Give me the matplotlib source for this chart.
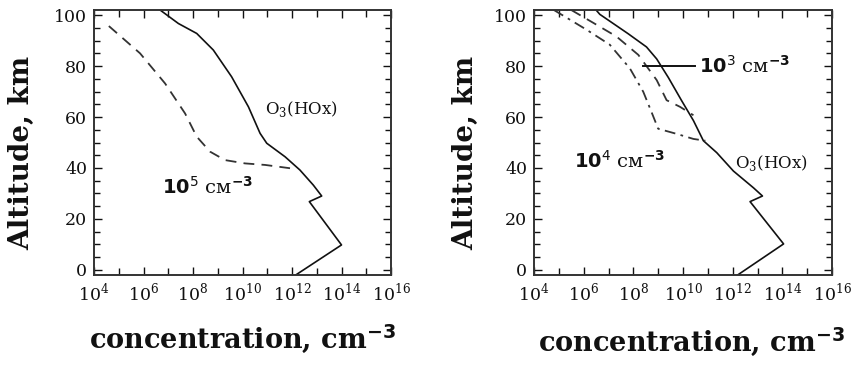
import numpy as np
import matplotlib.pyplot as plt
from matplotlib.ticker import NullFormatter

plt.rcParams['mathtext.fontset'] = 'custom'
plt.rcParams['mathtext.rm'] = 'DejaVu Serif'
plt.rcParams['mathtext.bf'] = 'DejaVu Sans:bold'
plt.rcParams['mathtext.sf'] = 'DejaVu Sans'

# O3(HOx) profile, left panel (altitude km, log10 concentration)
alt_o3_l = [102, 96.7, 92.8, 86.3, 75.8, 64, 53.6, 49.7, 44.4, 39.2, 33.3, 29.0, 26.8, 9.8, -2]
lg_o3_l = [6.67, 7.41, 8.15, 8.82, 9.56, 10.24, 10.71, 10.98, 11.72, 12.32, 12.86, 13.2, 12.7, 14.0, 12.15]

# 1e5 cm-3 profile (dashed), left panel
alt_d5 = [95.7, 85, 73.2, 61.4, 52.3, 46.4, 43.1, 41.8, 41.2, 39.9]
lg_d5 = [4.6, 5.86, 6.87, 7.68, 8.15, 8.69, 9.29, 10.1, 10.91, 11.92]

# O3(HOx) profile, right panel
alt_o3_r = [102, 100.3, 92.7, 87.5, 82.8, 75.5, 66.5, 58.6, 50.7, 46, 38.8, 32.2, 29.0, 26.8, 10.2, -2]
lg_o3_r = [6.5, 6.65, 7.79, 8.53, 8.94, 9.41, 9.94, 10.42, 10.82, 11.36, 12.03, 12.84, 13.2, 12.7, 14.05, 12.2]

# 1e3 cm-3 profile (dashed), right panel
alt_d3 = [102, 97, 91.6, 84.4, 74.5, 66.6, 64, 60.7]
lg_d3 = [5.5, 6.38, 7.32, 8.2, 8.94, 9.34, 9.88, 10.42]

# 1e4 cm-3 profile (dash-dot), right panel
alt_d4 = [102, 94.3, 88.4, 79.1, 69.9, 62, 55.4, 53.4, 51.4, 50.7]
lg_d4 = [4.8, 6.11, 7.05, 7.86, 8.4, 8.73, 9.0, 9.74, 10.42, 10.9]

xticks = [4, 6, 8, 10, 12, 14, 16]
yticks = [0, 20, 40, 60, 80, 100]

fig = plt.figure(figsize=(8.56, 3.65), dpi=100)
ax1 = fig.add_axes([94 / 856, 1 - 275 / 365, 297 / 856, 265 / 365])
ax2 = fig.add_axes([534 / 856, 1 - 275 / 365, 298 / 856, 265 / 365])

ink = '#111111'
for ax in (ax1, ax2):
    ax.set_xscale('log')
    ax.set_xlim(1e4, 1e16)
    ax.set_ylim(-2, 102)
    ax.set_xticks([10.0 ** t for t in xticks])
    ax.set_xticklabels([r'$10^{%d}$' % t for t in xticks])
    ax.set_xticks([10.0 ** t for t in range(5, 16, 2)], minor=True)
    ax.xaxis.set_minor_formatter(NullFormatter())
    ax.set_yticks(yticks)
    ax.set_yticks(np.arange(0, 101, 5), minor=True)
    ax.tick_params(which='both', direction='in', top=True, right=True,
                   width=1.0, colors=ink, labelsize=12.5)
    ax.tick_params(which='major', length=6, pad=5)
    ax.tick_params(which='minor', length=4)
    ax.tick_params(axis='x', which='minor', length=5)
    for lab in ax.get_yticklabels() + ax.get_xticklabels():
        lab.set_fontfamily('DejaVu Serif')
    for sp in ax.spines.values():
        sp.set_linewidth(1.4)
        sp.set_color('#333333')
    ax.set_ylabel('Altitude, km', fontfamily='DejaVu Serif', fontweight='bold',
                  fontsize=20, color=ink)
    ax.set_xlabel(r'concentration, cm$^{\mathbf{-3}}$', fontfamily='DejaVu Serif',
                  fontweight='bold', fontsize=19.5, color=ink)

ax1.yaxis.set_label_coords(-0.198, 0.46)
ax1.xaxis.set_label_coords(0.5, -0.18)
ax2.yaxis.set_label_coords(-0.183, 0.46)
ax2.xaxis.set_label_coords(0.53, -0.19)

# left panel
ax1.plot([10.0 ** v for v in lg_o3_l], alt_o3_l, color=ink, lw=1.2)
ax1.plot([10.0 ** v for v in lg_d5], alt_d5, color='#333333', lw=1.3, ls=(0, (6, 4)))
ax1.text(10 ** 10.9, 61, r'O$_3$(HOx)', fontfamily='DejaVu Serif', fontsize=12, color=ink)
ax1.text(10 ** 6.75, 30, r'$\mathbf{10}^{\mathsf{5}}$ см$^{\mathbf{-3}}$',
         fontfamily='DejaVu Serif', fontsize=14, color=ink)

# right panel
ax2.plot([10.0 ** v for v in lg_o3_r], alt_o3_r, color=ink, lw=1.2)
ax2.plot([10.0 ** v for v in lg_d3], alt_d3, color='#333333', lw=1.3, ls=(0, (6, 4)))
ax2.plot([10.0 ** v for v in lg_d4], alt_d4, color='#333333', lw=1.3, ls=(0, (6, 3, 1.5, 3)))
ax2.plot([10 ** 8.4, 10 ** 10.5], [80, 80], color=ink, lw=1.4)
ax2.text(10 ** 10.65, 80, r'$\mathbf{10}^{\mathsf{3}}$ см$^{\mathbf{-3}}$',
         fontfamily='DejaVu Serif', fontsize=14, color=ink, va='center')
ax2.text(10 ** 5.6, 40, r'$\mathbf{10}^{\mathsf{4}}$ см$^{\mathbf{-3}}$',
         fontfamily='DejaVu Serif', fontsize=14, color=ink)
ax2.text(10 ** 12.1, 40, r'O$_3$(HOx)', fontfamily='DejaVu Serif', fontsize=12, color=ink)

fig.savefig('out.png', dpi=100)
